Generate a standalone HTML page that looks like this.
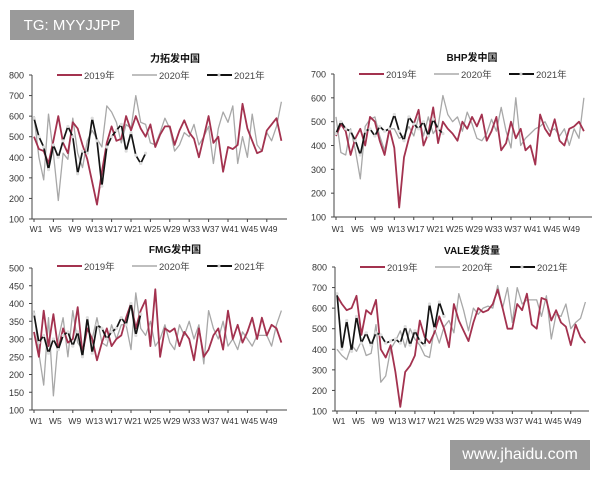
<!DOCTYPE html><html><head><meta charset="utf-8"><style>
body{margin:0;width:600px;height:480px;background:#fff;overflow:hidden;position:relative;font-family:"Liberation Sans","Noto Sans CJK SC",sans-serif}
svg{position:absolute;left:0;top:0}
.wm{position:absolute;background:#9a9a9a;color:#fff;font-size:15px;display:flex;align-items:center;justify-content:center}
</style></head><body>
<svg id="s" width="600" height="480" xmlns="http://www.w3.org/2000/svg"></svg>
<div class="wm" style="left:10px;top:10px;width:124px;height:30px">TG: MYYJJPP</div>
<div class="wm" style="left:450px;top:440px;width:140px;height:30px;font-size:16px">www.jhaidu.com</div>
<script>
var S=document.getElementById('s'),h='';
function chart(c){
 var x0=c.ax,yT=c.yt,yB=c.yb,vmin=c.min,vmax=c.max,dx=c.dx,x1=c.x1;
 function Y(v){return yB-(v-vmin)/(vmax-vmin)*(yB-yT);}
 function X(i){return x0+2+i*dx;}
 h+='<line x1="'+x0+'" y1="'+yT+'" x2="'+x0+'" y2="'+yB+'" stroke="#444" stroke-width="1"/>';
 h+='<line x1="'+x0+'" y1="'+yB+'" x2="'+x1+'" y2="'+yB+'" stroke="#444" stroke-width="1"/>';
 for(var v=vmin;v<=vmax;v+=c.step){var y=Y(v);h+='<line x1="'+(x0-3)+'" y1="'+y+'" x2="'+x0+'" y2="'+y+'" stroke="#444"/><text x="'+(x0-8)+'" y="'+(y+3.5)+'" font-size="9" text-anchor="end" fill="#333">'+v+'</text>';}
 for(var i=0;i<52;i+=4){var x=X(i);h+='<line x1="'+x+'" y1="'+yB+'" x2="'+x+'" y2="'+(yB+3)+'" stroke="#444"/><text x="'+(x+2)+'" y="'+(c.ly)+'" font-size="8.5" text-anchor="middle" fill="#333">W'+(i+1)+'</text>';}
 h+='<text x="'+c.tx+'" y="'+c.ty+'" font-size="10" font-weight="bold" text-anchor="middle" fill="#111">'+c.title+'</text>';
 var lg=c.ty+17,lx=x0+25;
 h+='<line x1="'+lx+'" y1="'+(lg-4)+'" x2="'+(lx+25)+'" y2="'+(lg-4)+'" stroke="#a3324f" stroke-width="2"/><text x="'+(lx+27)+'" y="'+lg+'" font-size="9.5" fill="#444">2019年</text>';
 h+='<line x1="'+(lx+75)+'" y1="'+(lg-4)+'" x2="'+(lx+100)+'" y2="'+(lg-4)+'" stroke="#999" stroke-width="1.3"/><text x="'+(lx+102)+'" y="'+lg+'" font-size="9.5" fill="#444">2020年</text>';
 h+='<line x1="'+(lx+150)+'" y1="'+(lg-4)+'" x2="'+(lx+175)+'" y2="'+(lg-4)+'" stroke="#111" stroke-width="2"/><circle cx="'+(lx+162)+'" cy="'+(lg-4)+'" r="1.5" fill="#ccc"/><text x="'+(lx+177)+'" y="'+lg+'" font-size="9.5" fill="#444">2021年</text>';
 function line(d,col,w,dots){var p=d.map(function(v,i){return X(i).toFixed(1)+','+Y(v).toFixed(1)}).join(' ');
  h+='<polyline points="'+p+'" fill="none" stroke="'+col+'" stroke-width="'+w+'" stroke-linejoin="round"/>';
  if(dots)d.forEach(function(v,i){h+='<circle cx="'+X(i)+'" cy="'+Y(v)+'" r="1.6" fill="#ddd"/>';});}
 line(c.b,'#a8a8a8',1.3);line(c.a,'#a3324f',1.8);line(c.c,'#151515',1.7,1);
}
chart({ax:32,x1:287,yt:75,yb:219,min:100,max:800,step:100,dx:4.85,ly:232,tx:175,ty:62,title:'力拓发中国',
a:[500,440,430,370,480,600,470,420,570,540,460,390,280,170,330,470,550,480,490,600,530,600,540,500,560,450,510,550,550,460,530,580,520,490,400,500,600,470,500,330,450,440,460,660,540,480,420,430,530,560,590,480],
b:[600,400,290,610,420,190,420,390,590,420,350,480,530,490,450,650,620,570,470,560,540,700,570,560,470,460,520,590,540,430,460,520,500,560,460,500,550,370,540,620,570,650,370,500,400,610,460,430,520,480,550,670],
c:[590,500,450,340,460,400,480,550,500,320,430,420,590,480,260,450,500,530,560,430,520,410,370,420]});
chart({ax:334,x1:592,yt:74,yb:217,min:100,max:700,step:100,dx:4.86,ly:232,tx:472,ty:61,title:'BHP发中国',
a:[440,490,460,360,430,470,400,520,500,420,360,470,390,140,350,430,490,550,400,450,560,410,500,470,450,420,500,470,520,480,530,420,460,520,380,410,500,430,470,380,400,320,530,470,440,510,420,400,470,480,500,460],
b:[520,370,360,470,380,260,480,510,520,440,380,470,470,430,440,480,440,520,440,520,450,480,610,530,500,520,460,540,490,430,420,450,510,460,560,460,390,600,400,430,450,470,480,500,460,470,440,470,400,470,430,600],
c:[450,500,470,460,420,360,460,470,440,480,460,470,530,460,420,520,490,470,500,440,510,470,450]});
chart({ax:32,x1:287,yt:268,yb:410,min:100,max:500,step:50,dx:4.85,ly:424,tx:175,ty:253,title:'FMG发中国',
a:[320,250,380,280,370,270,330,290,300,390,260,330,300,240,290,330,280,300,310,360,400,330,380,410,280,440,250,330,320,330,280,320,300,240,330,250,270,310,330,270,380,300,340,290,320,360,300,360,310,340,330,290],
b:[380,260,170,360,140,300,360,250,380,290,270,330,300,360,290,280,340,300,340,340,270,430,330,310,350,280,300,340,290,270,340,310,350,300,340,230,380,330,300,350,280,300,270,320,300,280,310,310,310,280,340,380],
c:[370,290,310,260,300,270,310,320,280,320,250,360,260,340,330,300,320,330,360,340,400,310,370]});
chart({ax:335,x1:589,yt:267,yb:411,min:100,max:800,step:100,dx:4.87,ly:424,tx:472,ty:254,title:'VALE发货量',
a:[660,620,590,600,660,470,590,570,640,400,360,420,290,120,290,320,370,540,460,430,480,560,500,410,620,540,490,440,530,600,580,590,620,690,600,500,500,620,590,670,520,500,650,640,540,590,530,510,420,520,460,430],
b:[400,370,350,420,390,440,370,380,520,240,270,400,440,490,410,500,450,420,370,360,500,430,510,540,480,670,590,490,600,570,600,610,600,710,600,700,530,700,620,640,640,640,560,660,450,570,560,620,500,530,550,630],
c:[670,400,540,390,560,430,480,420,480,470,430,440,450,430,510,420,490,440,420,620,500,630,560]});
S.innerHTML=h;
</script></body></html>
